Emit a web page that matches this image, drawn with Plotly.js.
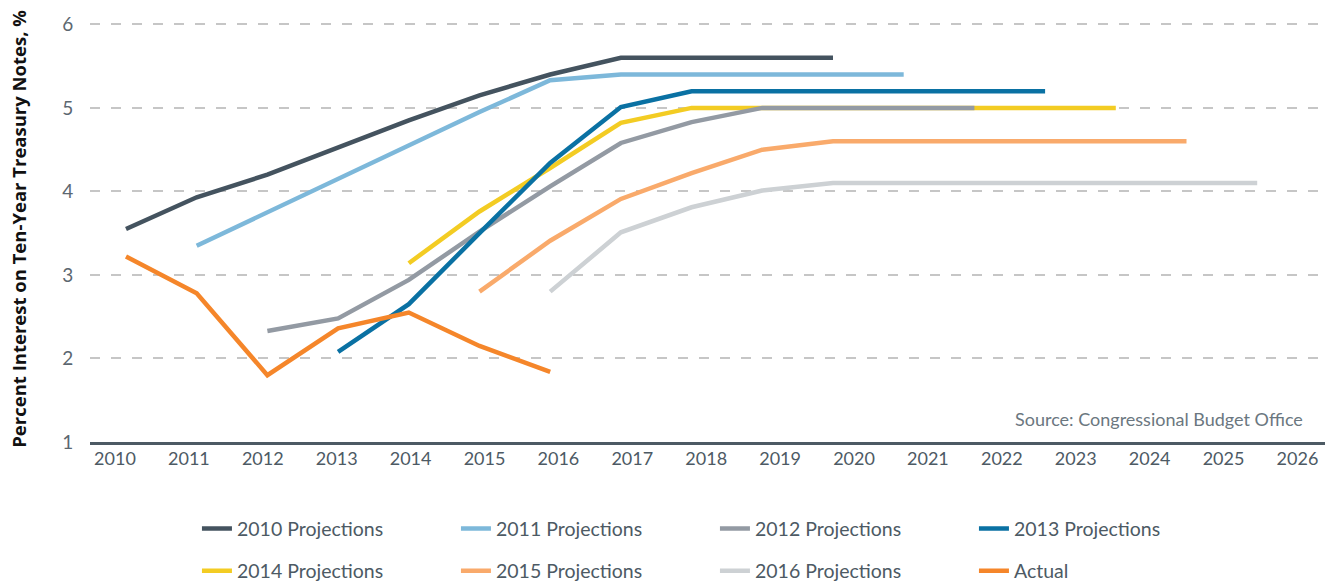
<!DOCTYPE html>
<html>
<head>
<meta charset="utf-8">
<script src="https://cdn.plot.ly/plotly-3.0.1.min.js"></script>
<style>html,body{margin:0;padding:0;background:#fff}#chart{width:1334px;height:582px}</style>
</head>
<body>
<div id="chart"></div>
<script>
// ---- data ----
const tickYears = [2010,2011,2012,2013,2014,2015,2016,2017,2018,2019,2020,2021,2022,2023,2024,2025,2026];

const years2010 = [2010,2011,2012,2013,2014,2015,2016,2017,2018,2019,2020];
const proj2010  = [3.55,3.93,4.20,4.53,4.85,5.15,5.40,5.60,5.60,5.60,5.60];

const years2011 = [2011,2012,2013,2014,2015,2016,2017,2018,2019,2020,2021];
const proj2011  = [3.35,3.75,4.15,4.55,4.95,5.33,5.40,5.40,5.40,5.40,5.40];

const years2012 = [2012,2013,2014,2015,2016,2017,2018,2019,2020,2021,2022];
const proj2012  = [2.33,2.48,2.94,3.52,4.06,4.58,4.83,5.00,5.00,5.00,5.00];

const years2013 = [2013,2014,2015,2016,2017,2018,2019,2020,2021,2022,2023];
const proj2013  = [2.08,2.65,3.50,4.34,5.01,5.20,5.20,5.20,5.20,5.20,5.20];

const years2014 = [2014,2015,2016,2017,2018,2019,2020,2021,2022,2023,2024];
const proj2014  = [3.14,3.76,4.28,4.82,5.00,5.00,5.00,5.00,5.00,5.00,5.00];

const years2015 = [2015,2016,2017,2018,2019,2020,2021,2022,2023,2024,2025];
const proj2015  = [2.80,3.41,3.91,4.22,4.50,4.60,4.60,4.60,4.60,4.60,4.60];

const years2016 = [2016,2017,2018,2019,2020,2021,2022,2023,2024,2025,2026];
const proj2016  = [2.80,3.51,3.81,4.01,4.10,4.10,4.10,4.10,4.10,4.10,4.10];

const yearsActual = [2010,2011,2012,2013,2014,2015,2016];
const actual      = [3.22,2.78,1.80,2.36,2.55,2.15,1.84];

// ---- styling ----
function line(name, x, y, color, rank, leg){
  return {type:'scatter', mode:'lines', name:name, x:x, y:y, xaxis:'x', yaxis:'y',
          line:{color:color, width:4.5}, legendrank:rank, legend:leg, hoverinfo:'x+y+name'};
}
const traces = [
  line('2016 Projections', years2016, proj2016, '#cdd1d4', 7, 'legend2'),
  line('2015 Projections', years2015, proj2015, '#f9aa6b', 6, 'legend2'),
  line('2014 Projections', years2014, proj2014, '#f3cc23', 5, 'legend2'),
  line('2012 Projections', years2012, proj2012, '#939aa3', 3, 'legend'),
  line('2013 Projections', years2013, proj2013, '#0a71a3', 4, 'legend'),
  line('2011 Projections', years2011, proj2011, '#7db8da', 2, 'legend'),
  line('2010 Projections', years2010, proj2010, '#44535f', 1, 'legend'),
  line('Actual', yearsActual, actual, '#f5862a', 8, 'legend2'),
  // invisible trace carrying the year tick axis
  {type:'scatter', mode:'none', x:tickYears, y:tickYears.map(()=>1), xaxis:'x2', yaxis:'y',
   showlegend:false, hoverinfo:'skip'}
];

const legendBase = {orientation:'h', x:0.0866, xanchor:'left', yanchor:'middle',
  entrywidth:214, entrywidthmode:'pixels', font:{size:19.5, color:'#4d5a64'},
  bgcolor:'rgba(0,0,0,0)'};

const layout = {
  width:1334, height:582,
  margin:{l:90, r:9, t:16, b:140, autoexpand:false},
  paper_bgcolor:'#ffffff', plot_bgcolor:'#ffffff',
  font:{family:'Lato, "Open Sans", sans-serif', color:'#4d5a64'},
  showlegend:true,
  legend:Object.assign({}, legendBase, {y:-0.204}),
  legend2:Object.assign({}, legendBase, {y:-0.303}),
  xaxis:{range:[2009.491, 2026.959], showticklabels:false, showgrid:false, zeroline:false,
         showline:true, linecolor:'#4d5a64', linewidth:3, ticks:''},
  xaxis2:{overlaying:'x', anchor:'y', side:'bottom', range:[2009.662, 2026.373],
          tickvals:tickYears, ticktext:tickYears.map(String), showgrid:false, zeroline:false,
          showline:false, ticks:'outside', ticklen:0, tickcolor:'rgba(0,0,0,0)',
          tickfont:{size:18, color:'#4d5a64'}},
  yaxis:{range:[1, 6.1], tickvals:[1,2,3,4,5,6], showgrid:true, gridcolor:'#c6c6c6',
         gridwidth:2, griddash:'10px,11px', zeroline:false, showline:false,
         ticks:'outside', ticklen:12, tickcolor:'rgba(0,0,0,0)',
         tickfont:{size:19, color:'#5c6770'}},
  annotations:[
    {text:'Percent Interest on Ten-Year Treasury Notes, %', xref:'paper', yref:'paper',
     x:-0.0585, y:0.5, xanchor:'center', yanchor:'middle', textangle:-90, showarrow:false,
     font:{family:'"Open Sans", sans-serif', size:18.5, color:'#111111', weight:'bold'}},
    {text:'Source: Congressional Budget Office', xref:'paper', yref:'y',
     x:0.9838, y:1.28, xanchor:'right', yanchor:'middle', showarrow:false,
     font:{size:18, color:'#6b7780'}}
  ]
};

Plotly.newPlot('chart', traces, layout, {displayModeBar:false, staticPlot:true});
</script>
</body>
</html>
